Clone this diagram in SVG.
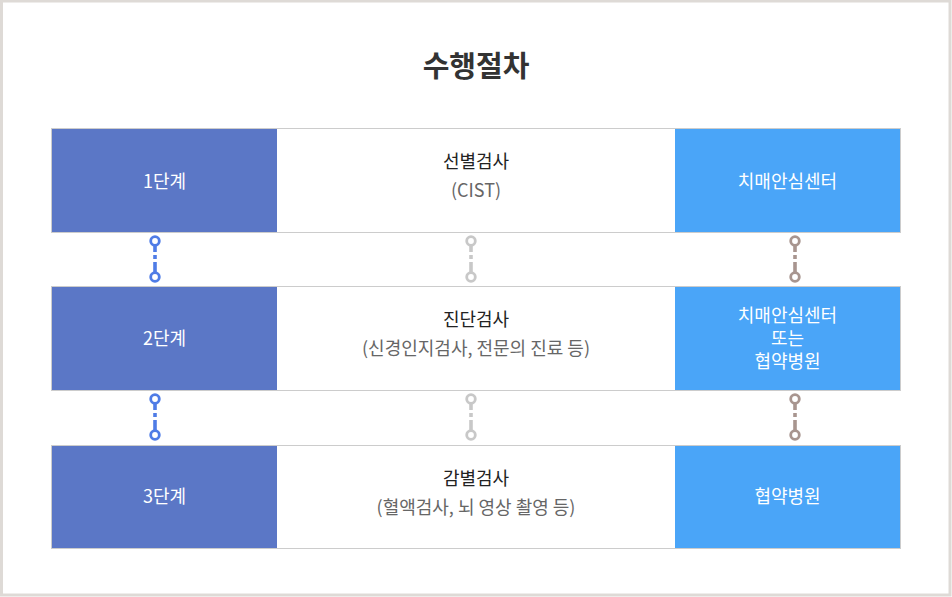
<svg xmlns="http://www.w3.org/2000/svg" width="952" height="597" viewBox="0 0 952 597">
<defs>
<style>
.t{font-family:"Noto Sans CJK KR","Noto Sans",sans-serif;font-size:18px;text-anchor:middle}
.w{fill:#ffffff}
.k{fill:#222222}
.g{fill:#666666}
.lc{fill:#5b77c6}
.rc{fill:#4aa5f8}
.mc{fill:#ffffff}
.ic{fill:none;stroke-width:2.8}
</style>
<g id="icon">
<circle cx="0" cy="0" r="4.3" class="ic"/>
<circle cx="0" cy="36" r="4.3" class="ic"/>
<line x1="0" y1="4" x2="0" y2="11" stroke-width="3.6"/>
<line x1="0" y1="14" x2="0" y2="18" stroke-width="3.6"/>
<line x1="0" y1="21" x2="0" y2="32" stroke-width="3.6"/>
</g>
</defs>
<rect x="0" y="0" width="952" height="597" fill="#ffffff"/>
<rect x="1.5" y="1" width="948.5" height="594" fill="none" stroke="#dedad6" stroke-width="3"/>
<text x="476" y="77" font-family="'Noto Sans CJK KR','Noto Sans',sans-serif" font-size="29" font-weight="bold" fill="#333333" text-anchor="middle">수행절차</text>

<g id="step1">
<rect x="52" y="128" width="225" height="104" class="lc"/>
<rect x="277" y="128" width="398" height="104" class="mc"/>
<rect x="675" y="128" width="225" height="104" class="rc"/>
<rect x="51.5" y="128.5" width="849" height="104" fill="none" stroke="#cccccc"/>
<text x="164.5" y="188" class="t w">1단계</text>
<text x="476" y="168" class="t k">선별검사</text>
<text x="476" y="197" class="t g">(CIST)</text>
<text x="787.5" y="188" class="t w">치매안심센터</text>
</g>

<g id="step2">
<rect x="52" y="286" width="225" height="104" class="lc"/>
<rect x="277" y="286" width="398" height="104" class="mc"/>
<rect x="675" y="286" width="225" height="104" class="rc"/>
<rect x="51.5" y="286.5" width="849" height="104" fill="none" stroke="#cccccc"/>
<text x="164.5" y="345" class="t w">2단계</text>
<text x="476" y="326" class="t k">진단검사</text>
<text x="476" y="355" class="t g">(신경인지검사, 전문의 진료 등)</text>
<text x="787.5" y="322" class="t w">치매안심센터</text>
<text x="787.5" y="345" class="t w">또는</text>
<text x="787.5" y="368" class="t w">협약병원</text>
</g>

<g id="step3">
<rect x="52" y="445" width="225" height="103" class="lc"/>
<rect x="277" y="445" width="398" height="103" class="mc"/>
<rect x="675" y="445" width="225" height="103" class="rc"/>
<rect x="51.5" y="445.5" width="849" height="103" fill="none" stroke="#cccccc"/>
<text x="164.5" y="503" class="t w">3단계</text>
<text x="476" y="485" class="t k">감별검사</text>
<text x="476" y="514" class="t g">(혈액검사, 뇌 영상 촬영 등)</text>
<text x="787.5" y="503" class="t w">협약병원</text>
</g>

<g id="connectors">
<use href="#icon" x="155" y="241" stroke="#4f7ce6"/>
<use href="#icon" x="471" y="241" stroke="#c8c8c8"/>
<use href="#icon" x="795" y="241" stroke="#a8958f"/>
<use href="#icon" x="155" y="399" stroke="#4f7ce6"/>
<use href="#icon" x="471" y="399" stroke="#c8c8c8"/>
<use href="#icon" x="795" y="399" stroke="#a8958f"/>
</g>
</svg>
